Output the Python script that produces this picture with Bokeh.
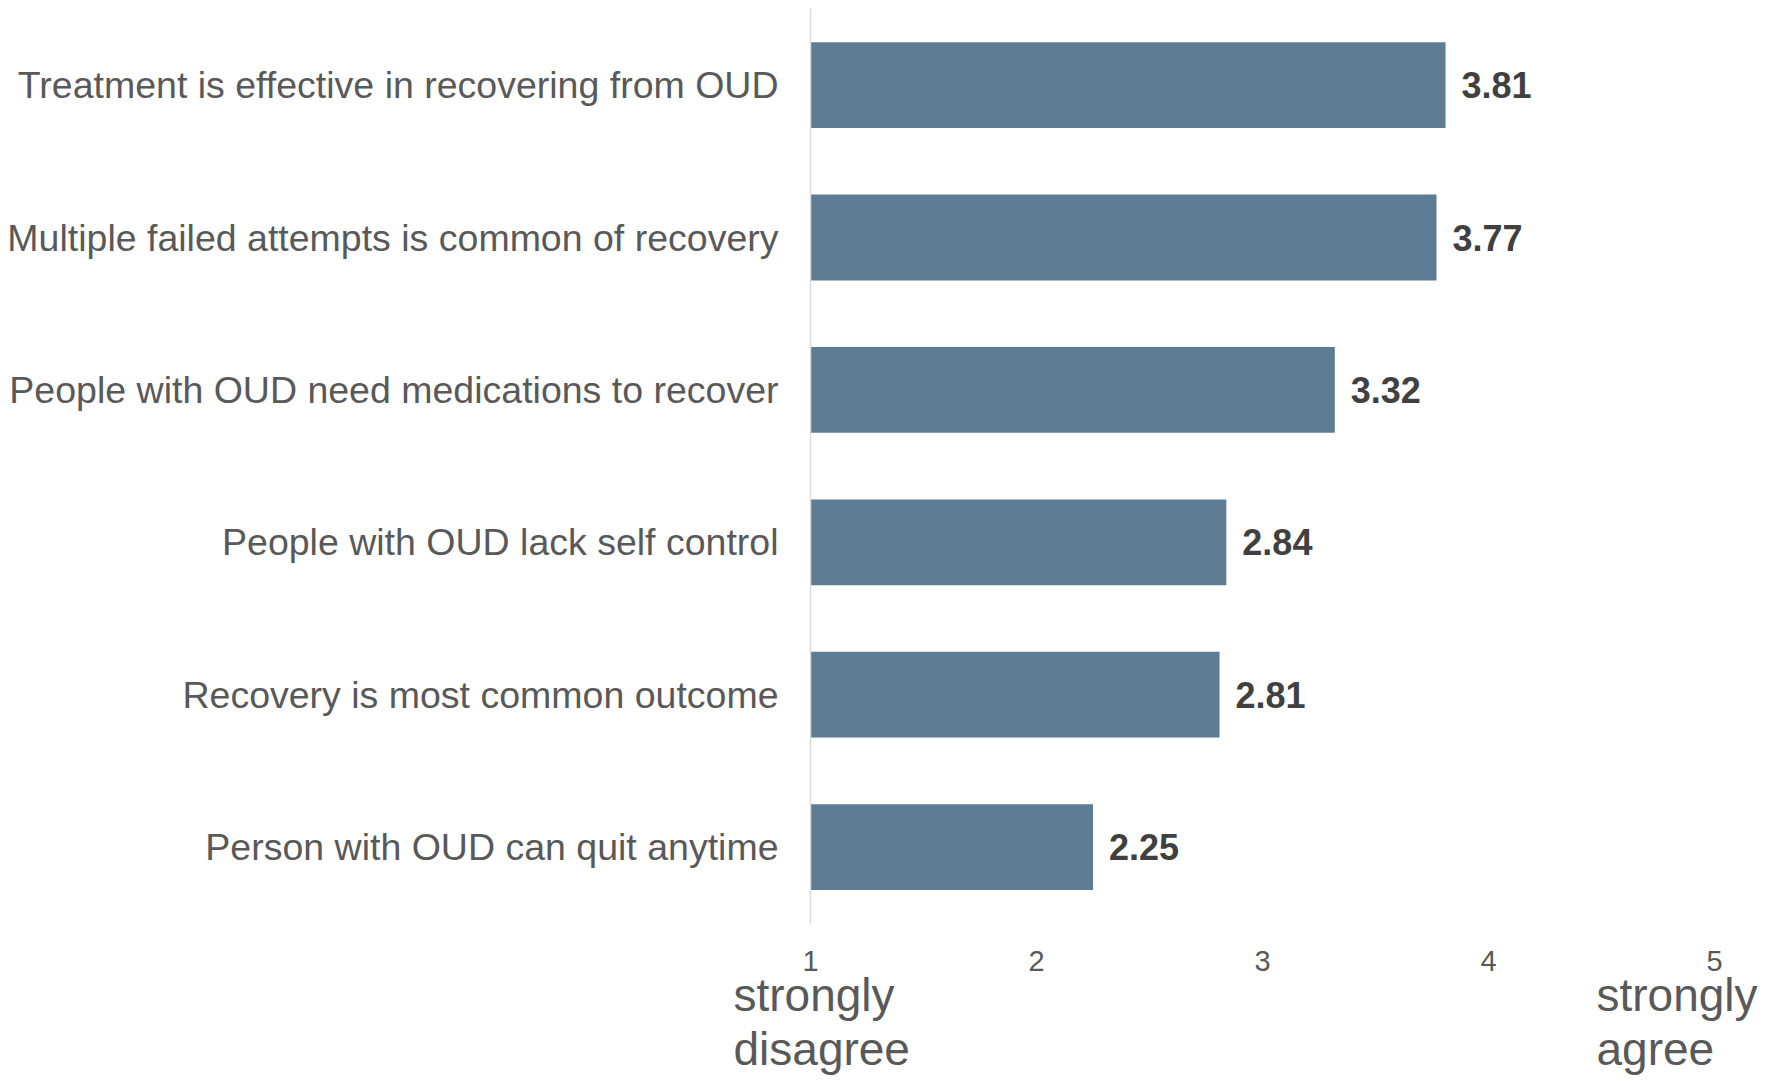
from bokeh.plotting import figure
from bokeh.models import Range1d, FixedTicker, Label, ColumnDataSource
from bokeh.core.properties import value
from bokeh.embed import file_html
from bokeh.resources import INLINE

categories = [
    "Treatment is effective in recovering from OUD",
    "Multiple failed attempts is common of recovery",
    "People with OUD need medications to recover",
    "People with OUD lack self control",
    "Recovery is most common outcome",
    "Person with OUD can quit anytime",
]
scores = [3.81, 3.77, 3.32, 2.84, 2.81, 2.25]
tick_values = [1, 2, 3, 4, 5]
low_anchor = "strongly\ndisagree"
high_anchor = "strongly\nagree"

FONT = "Liberation Sans"
BAR = "#5e7d95"
GREY = "#595959"

# layout calibration (pixels)
W, H = 1775, 1081
X0_PX = 810          # pixel position of scale value 1
PX_PER_UNIT = 226    # pixels per scale unit
ROW_PX = 152.4       # pixels per category row
TOP_CENTER_PX = 84.6 # pixel y of the first row's centre

n = len(categories)
ypos = list(range(n - 1, -1, -1))  # top category gets highest y
top_y = n - 1

x_start = tick_values[0] - X0_PX / PX_PER_UNIT
x_end = tick_values[0] + (W - X0_PX) / PX_PER_UNIT
y_end = top_y + TOP_CENTER_PX / ROW_PX
y_start = top_y - (H - TOP_CENTER_PX) / ROW_PX

src = ColumnDataSource(dict(
    y=ypos,
    score=scores,
    label=[f"{v:.2f}" for v in scores],
))

p = figure(
    width=W, height=H,
    x_range=Range1d(x_start, x_end),
    y_range=Range1d(y_start, y_end),
    output_backend="svg", toolbar_location=None,
    min_border=0, min_border_left=0, min_border_right=0,
    min_border_top=0, min_border_bottom=0,
)
p.outline_line_color = None
p.grid.grid_line_color = None
p.background_fill_color = "white"
p.border_fill_color = "white"

p.hbar(y="y", left=tick_values[0], right="score", height=0.563,
       color=BAR, line_color=None, source=src)
p.text(x="score", y="y", text="label", source=src, x_offset=16,
       text_align="left", text_baseline="middle",
       text_font=value(FONT), text_font_size="36px", text_font_style="bold",
       text_color="#404040")

bottom_edge = -0.5
top_edge = top_y + 0.5

# x axis, drawn just under the bars
xa = p.xaxis[0]
xa.fixed_location = bottom_edge
xa.ticker = FixedTicker(ticks=tick_values)
xa.axis_line_color = None
xa.major_tick_line_color = None
xa.minor_tick_line_color = None
xa.major_tick_out = 0
xa.major_tick_in = 0
xa.minor_tick_out = 0
xa.major_label_text_font = FONT
xa.major_label_text_font_size = "29px"
xa.major_label_text_color = GREY
xa.major_label_standoff = 28

# y axis at scale value 1, with category names
ya = p.yaxis[0]
ya.fixed_location = tick_values[0]
ya.bounds = (bottom_edge, top_edge)
ya.ticker = FixedTicker(ticks=ypos)
ya.major_label_overrides = {y: c for y, c in zip(ypos, categories)}
ya.axis_line_color = "#d9d9d9"
ya.axis_line_width = 1.5
ya.major_tick_line_color = None
ya.minor_tick_line_color = None
ya.major_tick_out = 0
ya.major_tick_in = 0
ya.minor_tick_out = 0
ya.major_label_text_font = FONT
ya.major_label_text_font_size = "37.5px"
ya.major_label_text_color = GREY
ya.major_label_standoff = 32

anchor_y = bottom_edge - (968 - 922.5) / ROW_PX
for txt, xv, off in [(low_anchor, tick_values[0], -77), (high_anchor, tick_values[-1], -118)]:
    p.add_layout(Label(x=xv, y=anchor_y, x_offset=off, text=txt,
                       text_align="left", text_baseline="top",
                       text_font=FONT, text_font_size="46px",
                       text_color=GREY, text_line_height=1.05))

open("out.html", "w").write(file_html(p, INLINE))
